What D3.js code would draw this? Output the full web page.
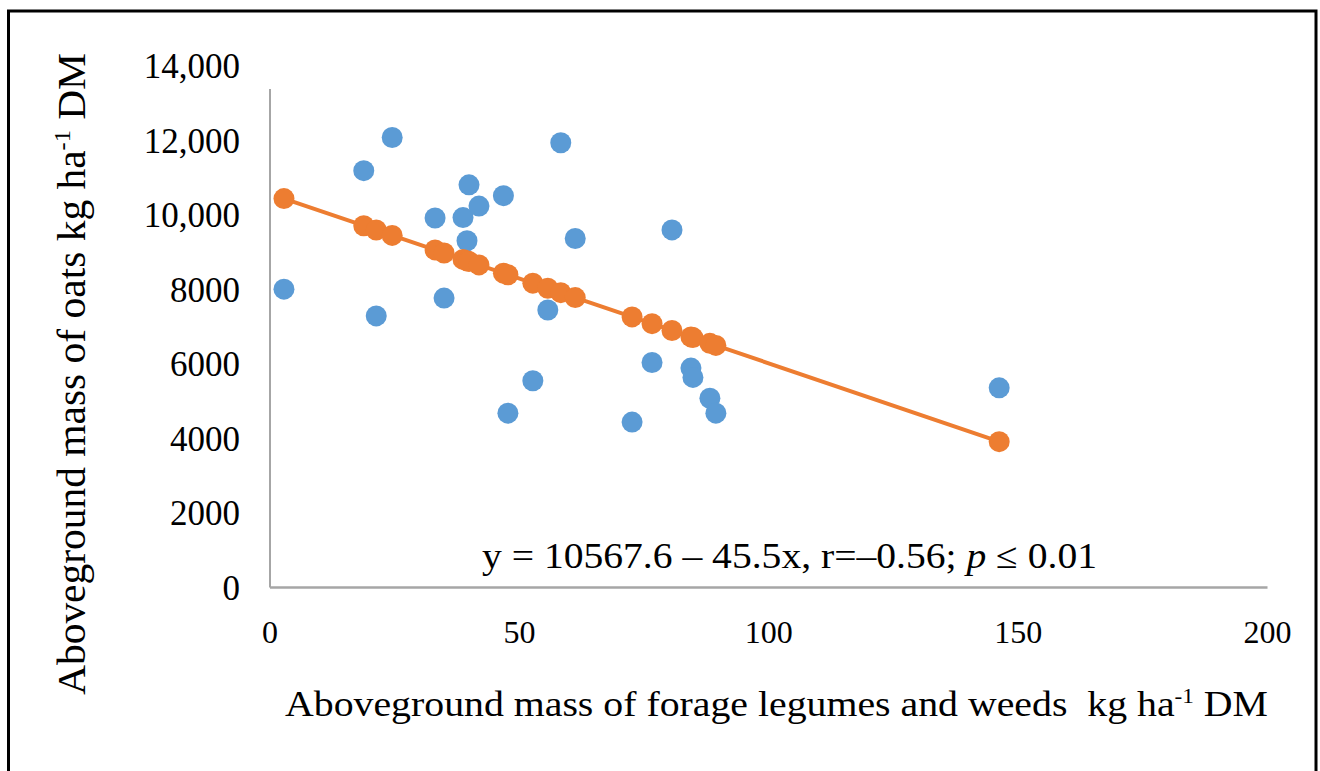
<!DOCTYPE html>
<html>
<head>
<meta charset="utf-8">
<script src="https://cdn.jsdelivr.net/npm/d3@7"></script>
<style>
  html, body { margin: 0; padding: 0; background: #fff; }
  svg { display: block; }
  text { font-family: "Liberation Serif", "Times New Roman", serif; fill: #000; }
</style>
</head>
<body>
<svg id="chart" width="1320" height="771"></svg>
<script>
// ---- data ----
const legumeMass = [2.8, 18.8, 21.3, 24.5, 33.1, 34.9, 38.7, 39.5, 39.9, 41.9, 46.8, 47.7,
  52.7, 55.7, 58.3, 61.2, 72.6, 76.6, 80.6, 84.4, 84.8, 88.2, 89.4, 146.2];
const oatsMass = [8010, 11190, 7290, 12080, 9920, 7770, 9930, 9310, 10810, 10240, 10520, 4680,
  5550, 7450, 11940, 9370, 4440, 6040, 9600, 5890, 5640, 5080, 4680, 5360];
const fittedMass = [10440, 9712, 9598, 9453, 9062, 8980, 8807, 8770, 8752, 8661, 8438, 8397,
  8170, 8033, 7915, 7783, 7264, 7082, 6900, 6728, 6709, 6555, 6500, 3915];
const xTicks = [0, 50, 100, 150, 200];
const xTickLabels = ["0", "50", "100", "150", "200"];
const yTicks = [0, 2000, 4000, 6000, 8000, 10000, 12000, 14000];
const yTickLabels = ["0", "2000", "4000", "6000", "8000", "10,000", "12,000", "14,000"];
const equationText = "y = 10567.6 \u2013 45.5x, r=\u20130.56; ";

// ---- layout ----
const svg = d3.select("#chart");
const x = d3.scaleLinear().domain([0, 200]).range([270, 1267.5]);
const y = d3.scaleLinear().domain([0, 14000]).range([587.5, 66]);
const blue = "#5B9BD5", orange = "#ED7D31";

// outer frame
svg.append("rect").attr("x", 8.5).attr("y", 11).attr("width", 1307.5).attr("height", 800)
  .attr("fill", "none").attr("stroke", "#000").attr("stroke-width", 3);

// axes lines
svg.append("line").attr("x1", x(0)).attr("x2", x(0)).attr("y1", 89).attr("y2", y(0))
  .attr("stroke", "#a6a6a6").attr("stroke-width", 2);
svg.append("line").attr("x1", x(0)).attr("x2", x(200)).attr("y1", y(0)).attr("y2", y(0))
  .attr("stroke", "#a6a6a6").attr("stroke-width", 2.5);

// tick labels
svg.append("g").selectAll("text").data(yTicks).join("text")
  .attr("x", 240).attr("y", d => y(d)).attr("dy", "0.35em")
  .attr("text-anchor", "end").attr("font-size", 35)
  .text((d, i) => yTickLabels[i]);
svg.append("g").selectAll("text").data(xTicks).join("text")
  .attr("x", d => x(d)).attr("y", 632).attr("dy", "0.35em")
  .attr("text-anchor", "middle").attr("font-size", 32)
  .text((d, i) => xTickLabels[i]);

// axis titles
const xt = svg.append("text").attr("x", 285).attr("y", 716).attr("font-size", 36)
  .attr("textLength", 983).attr("lengthAdjust", "spacingAndGlyphs");
xt.append("tspan").text("Aboveground mass of forage legumes and weeds\u00a0 kg ha");
xt.append("tspan").attr("font-size", 21).attr("dy", -13).text("-1");
xt.append("tspan").attr("dy", 13).text(" DM");

const yt = svg.append("text").attr("transform", "translate(85,695) rotate(-90)")
  .attr("x", 0).attr("y", 0).attr("font-size", 41)
  .attr("textLength", 642).attr("lengthAdjust", "spacingAndGlyphs");
yt.append("tspan").text("Aboveground mass of oats kg ha");
yt.append("tspan").attr("font-size", 24).attr("dy", -15).text("-1");
yt.append("tspan").attr("dy", 15).text(" DM");

// equation
const eq = svg.append("text").attr("x", 482).attr("y", 568).attr("font-size", 36)
  .attr("textLength", 615).attr("lengthAdjust", "spacingAndGlyphs");
eq.append("tspan").text(equationText);
eq.append("tspan").attr("font-style", "italic").text("p");
eq.append("tspan").text(" \u2264 0.01");

// blue observed points
svg.append("g").selectAll("circle").data(legumeMass).join("circle")
  .attr("cx", d => x(d)).attr("cy", (d, i) => y(oatsMass[i])).attr("r", 10.5)
  .attr("fill", blue);

// fitted line + points
const fitPts = legumeMass.map((d, i) => [d, fittedMass[i]]).sort((a, b) => a[0] - b[0]);
svg.append("path").datum(fitPts)
  .attr("d", d3.line().x(d => x(d[0])).y(d => y(d[1])))
  .attr("fill", "none").attr("stroke", orange).attr("stroke-width", 4);
svg.append("g").selectAll("circle").data(fitPts).join("circle")
  .attr("cx", d => x(d[0])).attr("cy", d => y(d[1])).attr("r", 10.5)
  .attr("fill", orange);
</script>
</body>
</html>
